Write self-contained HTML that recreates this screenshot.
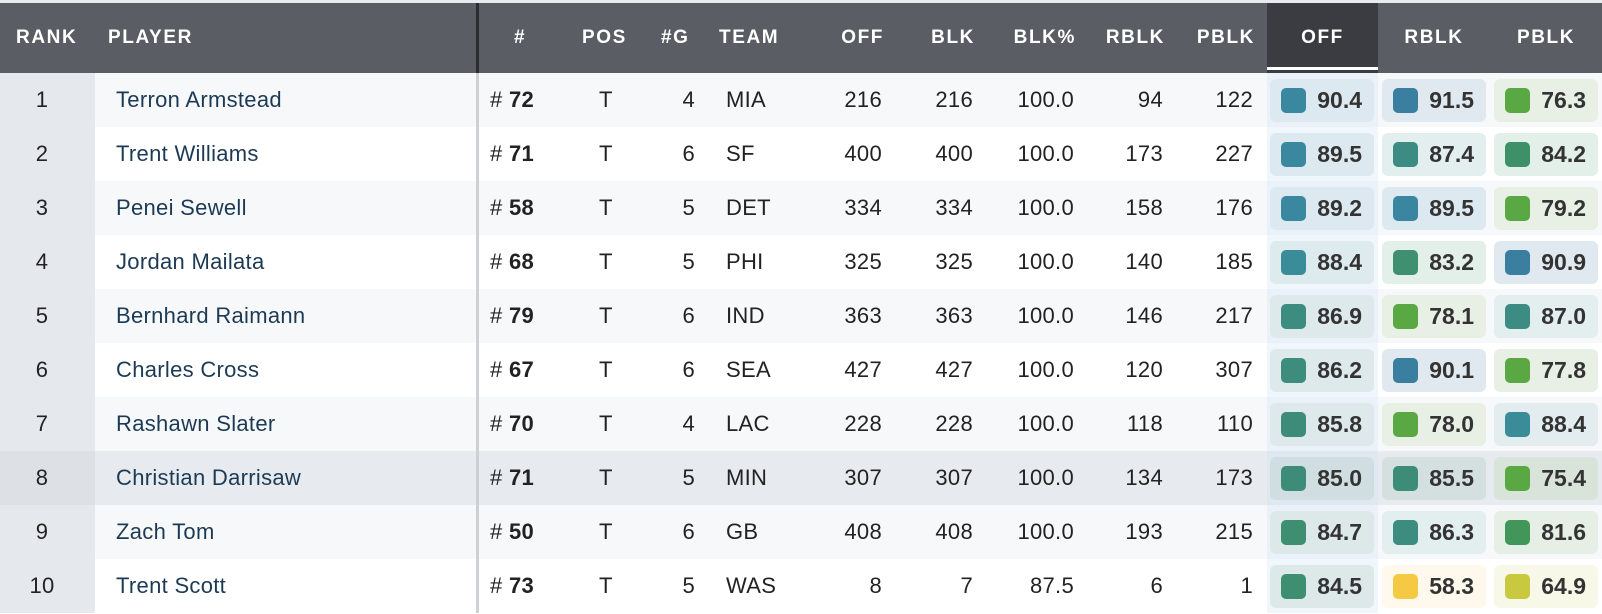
<!DOCTYPE html>
<html><head><meta charset="utf-8"><style>
*{margin:0;padding:0;box-sizing:border-box}
body{width:1602px;height:614px;background:#fff;position:relative;overflow:hidden;font-family:"Liberation Sans",Arial,sans-serif;color:#222}
.top{position:absolute;left:0;top:0;width:1602px;height:3px;background:#e8eaed}
.hd{position:absolute;left:0;top:3px;width:1602px;height:70px;background:#5a5e64}
.hoff{position:absolute;left:1267px;top:3px;width:111px;height:70px;background:#3b3c41}
.hoff:after{content:"";position:absolute;left:0;right:0;top:64px;height:3px;background:#fff}
.h{position:absolute;top:3px;height:70px;line-height:70px;color:#fff;font-weight:bold;font-size:19px;letter-spacing:1.6px;white-space:nowrap}
.hr{text-align:right;letter-spacing:1.6px}
.row{position:absolute;left:0;width:1602px;height:54px}
.row .rk{position:absolute;left:0;top:0;width:95px;height:54px;background:#e5e8ec}
.c{position:absolute;line-height:54px;font-size:22px;white-space:nowrap;letter-spacing:0.3px}
.r{text-align:right}
.nm{color:#1d3a55}
.g{position:absolute;z-index:3;top:6px;width:104px;height:43px;border-radius:6px;font-weight:bold;font-size:23px;color:#333;line-height:43px}
.g i{position:absolute;left:11px;top:9px;width:25px;height:25px;border-radius:5px}
.g span{position:absolute;right:12px;top:0}
.div1{position:absolute;left:476px;top:3px;width:3px;height:70px;background:#2b2c30}
.div2{position:absolute;left:476px;top:73px;width:3px;height:540px;background:#cdd1d5}
.offcol{position:absolute;z-index:2;left:1267px;top:73px;width:111px;height:540px;background:rgba(210,228,245,0.35)}
</style></head><body>
<div class="top"></div><div class="hd"></div><div class="hoff"></div>
<div class="h" style="left:16px">RANK</div>
<div class="h" style="left:108px">PLAYER</div>
<div class="h" style="left:514px">#</div>
<div class="h" style="left:582px">POS</div>
<div class="h" style="left:661px">#G</div>
<div class="h" style="left:719px">TEAM</div>
<div class="h hr" style="right:718px">OFF</div>
<div class="h hr" style="right:627px">BLK</div>
<div class="h hr" style="right:526px">BLK%</div>
<div class="h hr" style="right:437px">RBLK</div>
<div class="h hr" style="right:347px">PBLK</div>
<div class="h" style="left:1267px;width:111px;text-align:center">OFF</div>
<div class="h" style="left:1382px;width:104px;text-align:center">RBLK</div>
<div class="h" style="left:1494px;width:104px;text-align:center">PBLK</div>
<div class="div1"></div>

<div class="row" style="top:73px;background:#f7f8fa"><div class="rk"></div>
<div class="c" style="left:0;width:84px;text-align:center">1</div><div class="c nm" style="left:116px">Terron Armstead</div>
<div class="c" style="left:490px"># <b>72</b></div><div class="c" style="left:599px">T</div><div class="c r" style="right:907px">4</div><div class="c" style="left:726px">MIA</div>
<div class="c r" style="right:720px">216</div><div class="c r" style="right:629px">216</div><div class="c r" style="right:528px">100.0</div><div class="c r" style="right:439px">94</div><div class="c r" style="right:349px">122</div>
<div class="g" style="left:1270px;background:#dde9f0"><i style="background:#3a88a0"></i><span>90.4</span></div>
<div class="g" style="left:1382px;background:#e1e9f0"><i style="background:#3a7fa0"></i><span>91.5</span></div>
<div class="g" style="left:1494px;background:#e8f0e6"><i style="background:#5aa843"></i><span>76.3</span></div></div>

<div class="row" style="top:127px;background:#fff"><div class="rk"></div>
<div class="c" style="left:0;width:84px;text-align:center">2</div><div class="c nm" style="left:116px">Trent Williams</div>
<div class="c" style="left:490px"># <b>71</b></div><div class="c" style="left:599px">T</div><div class="c r" style="right:907px">6</div><div class="c" style="left:726px">SF</div>
<div class="c r" style="right:720px">400</div><div class="c r" style="right:629px">400</div><div class="c r" style="right:528px">100.0</div><div class="c r" style="right:439px">173</div><div class="c r" style="right:349px">227</div>
<div class="g" style="left:1270px;background:#dde9f0"><i style="background:#3a88a0"></i><span>89.5</span></div>
<div class="g" style="left:1382px;background:#e3eeee"><i style="background:#3d8c84"></i><span>87.4</span></div>
<div class="g" style="left:1494px;background:#e3efe9"><i style="background:#3e9068"></i><span>84.2</span></div></div>

<div class="row" style="top:181px;background:#f7f8fa"><div class="rk"></div>
<div class="c" style="left:0;width:84px;text-align:center">3</div><div class="c nm" style="left:116px">Penei Sewell</div>
<div class="c" style="left:490px"># <b>58</b></div><div class="c" style="left:599px">T</div><div class="c r" style="right:907px">5</div><div class="c" style="left:726px">DET</div>
<div class="c r" style="right:720px">334</div><div class="c r" style="right:629px">334</div><div class="c r" style="right:528px">100.0</div><div class="c r" style="right:439px">158</div><div class="c r" style="right:349px">176</div>
<div class="g" style="left:1270px;background:#dde9f0"><i style="background:#3a88a0"></i><span>89.2</span></div>
<div class="g" style="left:1382px;background:#dde9f0"><i style="background:#3a86a0"></i><span>89.5</span></div>
<div class="g" style="left:1494px;background:#e8f0e6"><i style="background:#5aa843"></i><span>79.2</span></div></div>

<div class="row" style="top:235px;background:#fff"><div class="rk"></div>
<div class="c" style="left:0;width:84px;text-align:center">4</div><div class="c nm" style="left:116px">Jordan Mailata</div>
<div class="c" style="left:490px"># <b>68</b></div><div class="c" style="left:599px">T</div><div class="c r" style="right:907px">5</div><div class="c" style="left:726px">PHI</div>
<div class="c r" style="right:720px">325</div><div class="c r" style="right:629px">325</div><div class="c r" style="right:528px">100.0</div><div class="c r" style="right:439px">140</div><div class="c r" style="right:349px">185</div>
<div class="g" style="left:1270px;background:#ddeaee"><i style="background:#3a8c98"></i><span>88.4</span></div>
<div class="g" style="left:1382px;background:#e3efe9"><i style="background:#3f9070"></i><span>83.2</span></div>
<div class="g" style="left:1494px;background:#e1e9f0"><i style="background:#3a7fa0"></i><span>90.9</span></div></div>

<div class="row" style="top:289px;background:#f7f8fa"><div class="rk"></div>
<div class="c" style="left:0;width:84px;text-align:center">5</div><div class="c nm" style="left:116px">Bernhard Raimann</div>
<div class="c" style="left:490px"># <b>79</b></div><div class="c" style="left:599px">T</div><div class="c r" style="right:907px">6</div><div class="c" style="left:726px">IND</div>
<div class="c r" style="right:720px">363</div><div class="c r" style="right:629px">363</div><div class="c r" style="right:528px">100.0</div><div class="c r" style="right:439px">146</div><div class="c r" style="right:349px">217</div>
<div class="g" style="left:1270px;background:#dde9eb"><i style="background:#3d8c80"></i><span>86.9</span></div>
<div class="g" style="left:1382px;background:#e8f0e6"><i style="background:#5aa843"></i><span>78.1</span></div>
<div class="g" style="left:1494px;background:#e3eeee"><i style="background:#3d8c84"></i><span>87.0</span></div></div>

<div class="row" style="top:343px;background:#fff"><div class="rk"></div>
<div class="c" style="left:0;width:84px;text-align:center">6</div><div class="c nm" style="left:116px">Charles Cross</div>
<div class="c" style="left:490px"># <b>67</b></div><div class="c" style="left:599px">T</div><div class="c r" style="right:907px">6</div><div class="c" style="left:726px">SEA</div>
<div class="c r" style="right:720px">427</div><div class="c r" style="right:629px">427</div><div class="c r" style="right:528px">100.0</div><div class="c r" style="right:439px">120</div><div class="c r" style="right:349px">307</div>
<div class="g" style="left:1270px;background:#dde9eb"><i style="background:#3d8c7c"></i><span>86.2</span></div>
<div class="g" style="left:1382px;background:#e1e9f0"><i style="background:#3a7fa0"></i><span>90.1</span></div>
<div class="g" style="left:1494px;background:#e8f0e6"><i style="background:#5aa843"></i><span>77.8</span></div></div>

<div class="row" style="top:397px;background:#f7f8fa"><div class="rk"></div>
<div class="c" style="left:0;width:84px;text-align:center">7</div><div class="c nm" style="left:116px">Rashawn Slater</div>
<div class="c" style="left:490px"># <b>70</b></div><div class="c" style="left:599px">T</div><div class="c r" style="right:907px">4</div><div class="c" style="left:726px">LAC</div>
<div class="c r" style="right:720px">228</div><div class="c r" style="right:629px">228</div><div class="c r" style="right:528px">100.0</div><div class="c r" style="right:439px">118</div><div class="c r" style="right:349px">110</div>
<div class="g" style="left:1270px;background:#dde9eb"><i style="background:#3d8c7a"></i><span>85.8</span></div>
<div class="g" style="left:1382px;background:#e8f0e6"><i style="background:#5aa843"></i><span>78.0</span></div>
<div class="g" style="left:1494px;background:#e3edef"><i style="background:#3a8c98"></i><span>88.4</span></div></div>

<div class="row" style="top:451px;background:#e7eaee"><div class="rk" style="background:#dde1e6"></div>
<div class="c" style="left:0;width:84px;text-align:center">8</div><div class="c nm" style="left:116px">Christian Darrisaw</div>
<div class="c" style="left:490px"># <b>71</b></div><div class="c" style="left:599px">T</div><div class="c r" style="right:907px">5</div><div class="c" style="left:726px">MIN</div>
<div class="c r" style="right:720px">307</div><div class="c r" style="right:629px">307</div><div class="c r" style="right:528px">100.0</div><div class="c r" style="right:439px">134</div><div class="c r" style="right:349px">173</div>
<div class="g" style="left:1270px;background:#d0dee2"><i style="background:#3d8c78"></i><span>85.0</span></div>
<div class="g" style="left:1382px;background:#d4e0e0"><i style="background:#3d8c78"></i><span>85.5</span></div>
<div class="g" style="left:1494px;background:#d8e4da"><i style="background:#5aa843"></i><span>75.4</span></div></div>

<div class="row" style="top:505px;background:#f7f8fa"><div class="rk"></div>
<div class="c" style="left:0;width:84px;text-align:center">9</div><div class="c nm" style="left:116px">Zach Tom</div>
<div class="c" style="left:490px"># <b>50</b></div><div class="c" style="left:599px">T</div><div class="c r" style="right:907px">6</div><div class="c" style="left:726px">GB</div>
<div class="c r" style="right:720px">408</div><div class="c r" style="right:629px">408</div><div class="c r" style="right:528px">100.0</div><div class="c r" style="right:439px">193</div><div class="c r" style="right:349px">215</div>
<div class="g" style="left:1270px;background:#dde9e8"><i style="background:#3e8f72"></i><span>84.7</span></div>
<div class="g" style="left:1382px;background:#e3eeee"><i style="background:#3d8c80"></i><span>86.3</span></div>
<div class="g" style="left:1494px;background:#e5efe6"><i style="background:#43965a"></i><span>81.6</span></div></div>

<div class="row" style="top:559px;background:#fff"><div class="rk"></div>
<div class="c" style="left:0;width:84px;text-align:center">10</div><div class="c nm" style="left:116px">Trent Scott</div>
<div class="c" style="left:490px"># <b>73</b></div><div class="c" style="left:599px">T</div><div class="c r" style="right:907px">5</div><div class="c" style="left:726px">WAS</div>
<div class="c r" style="right:720px">8</div><div class="c r" style="right:629px">7</div><div class="c r" style="right:528px">87.5</div><div class="c r" style="right:439px">6</div><div class="c r" style="right:349px">1</div>
<div class="g" style="left:1270px;background:#dde9e8"><i style="background:#3e8f72"></i><span>84.5</span></div>
<div class="g" style="left:1382px;background:#fef9ec"><i style="background:#f6c944"></i><span>58.3</span></div>
<div class="g" style="left:1494px;background:#f7f8e8"><i style="background:#c8c93f"></i><span>64.9</span></div></div>

<div class="offcol"></div>
<div class="div2"></div>
</body></html>
